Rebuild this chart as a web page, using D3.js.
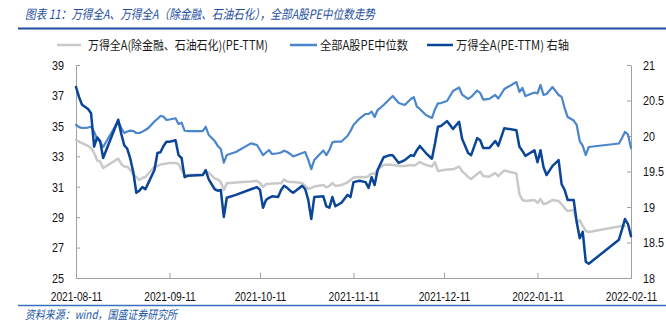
<!DOCTYPE html>
<html><head><meta charset="utf-8">
<script src="https://cdn.jsdelivr.net/npm/d3@7"></script>
<style>body{margin:0;background:#fff}svg{display:block}</style>
</head><body><svg id="c" width="666" height="328"></svg>
<script>
const titleText = "图表 11：万得全A、万得全A（除金融、石油石化），全部A股PE中位数走势";
const sourceText = "资料来源：wind，国盛证券研究所";
const seriesNames = ["万得全A(除金融、石油石化)(PE-TTM)", "全部A股PE中位数", "万得全A(PE-TTM) 右轴"];

const dates = [
"2021-08-11","2021-08-12","2021-08-13","2021-08-15","2021-08-16","2021-08-17","2021-08-18","2021-08-19","2021-08-20","2021-08-25","2021-08-26","2021-08-27","2021-08-28","2021-08-29","2021-08-30","2021-08-31",
"2021-09-01","2021-09-02","2021-09-03","2021-09-04","2021-09-06","2021-09-07","2021-09-08","2021-09-09","2021-09-10","2021-09-11","2021-09-13","2021-09-14","2021-09-15","2021-09-16","2021-09-17","2021-09-22","2021-09-23","2021-09-24","2021-09-26","2021-09-27","2021-09-28","2021-09-29","2021-09-30",
"2021-10-03","2021-10-08","2021-10-10","2021-10-11","2021-10-12","2021-10-13","2021-10-14","2021-10-15","2021-10-17","2021-10-18","2021-10-19","2021-10-20","2021-10-21","2021-10-22","2021-10-25","2021-10-26","2021-10-27","2021-10-28","2021-10-29",
"2021-11-01","2021-11-02","2021-11-03","2021-11-04","2021-11-05","2021-11-07","2021-11-09","2021-11-10","2021-11-11","2021-11-13","2021-11-15","2021-11-16","2021-11-17","2021-11-18","2021-11-19","2021-11-21","2021-11-23","2021-11-24","2021-11-26","2021-11-28","2021-11-30",
"2021-12-01","2021-12-02","2021-12-03","2021-12-05","2021-12-07","2021-12-08","2021-12-09","2021-12-10","2021-12-12","2021-12-14","2021-12-16","2021-12-17","2021-12-19","2021-12-20","2021-12-22","2021-12-23","2021-12-24","2021-12-26","2021-12-28","2021-12-29","2021-12-31",
"2022-01-04","2022-01-05","2022-01-06","2022-01-07","2022-01-10","2022-01-11","2022-01-12","2022-01-13","2022-01-14","2022-01-16","2022-01-18","2022-01-19","2022-01-20","2022-01-21","2022-01-23","2022-01-24","2022-01-25","2022-01-26","2022-01-27","2022-01-28",
"2022-02-07","2022-02-08","2022-02-09","2022-02-10","2022-02-11"];

// 万得全A(除金融、石油石化)(PE-TTM) - left axis
const wdaExFin = [
34.07,33.97,33.87,33.68,33.54,33.22,32.72,32.66,32.23,32.85,32.49,32.33,32.32,32.10,31.80,31.64,
31.44,31.57,31.64,31.87,32.30,32.36,32.46,32.49,32.53,32.56,32.56,32.49,32.10,31.77,31.77,31.80,31.97,31.93,31.55,31.47,31.31,30.78,31.22,
31.28,31.34,31.38,31.24,30.98,31.18,31.18,31.21,31.22,31.24,31.47,31.34,31.31,31.31,31.24,31.05,30.85,30.92,31.01,
31.11,30.96,31.05,31.24,31.05,31.11,31.28,31.44,31.61,31.64,31.62,31.70,31.87,31.84,32.13,32.43,32.46,32.43,32.36,32.36,32.43,
32.39,32.49,32.62,32.43,32.33,32.62,32.03,32.07,32.13,32.14,32.32,32.03,31.64,31.51,31.84,31.99,31.70,31.66,31.90,31.70,32.07,
31.87,30.52,30.13,30.06,30.13,29.93,30.19,29.86,29.90,30.13,30.06,29.86,29.60,29.40,29.47,28.61,28.81,28.42,28.09,28.02,
28.38,28.42,28.42,null,null];

// 全部A股PE中位数 - left axis
const medianPE = [
35.06,34.92,34.86,34.89,34.94,34.62,34.14,33.94,33.61,35.32,34.86,34.53,34.63,34.69,34.66,34.53,
34.53,34.62,34.73,34.86,35.29,35.45,35.65,35.61,35.39,35.42,35.50,35.12,35.21,34.68,34.66,34.66,34.94,34.40,34.00,33.68,33.48,32.58,33.08,
33.28,33.85,33.74,33.41,33.08,33.25,33.41,33.15,33.20,33.25,33.37,33.28,33.15,32.99,33.22,33.28,32.76,32.16,32.76,
33.38,33.08,33.41,33.91,33.96,33.97,34.33,34.66,35.06,35.48,35.78,35.78,35.94,35.58,36.04,36.37,36.77,36.96,36.50,36.37,36.77,
36.88,36.26,36.11,35.71,35.52,36.08,36.48,36.50,36.63,37.29,37.52,37.06,36.77,36.90,37.32,37.16,36.73,36.77,37.03,36.80,37.42,
37.88,37.23,37.49,36.96,37.19,37.13,37.69,37.03,37.09,37.55,37.03,36.90,36.17,35.58,35.35,35.06,34.00,33.68,33.08,33.61,
33.84,34.20,34.60,34.43,33.54];

// 万得全A(PE-TTM) - right axis
const wdaPE = [
20.69,20.55,20.44,20.38,20.32,19.85,19.98,19.93,19.69,20.23,20.03,19.87,19.82,19.68,19.49,19.20,
19.23,19.28,19.25,19.34,19.52,19.76,19.77,19.86,19.92,19.92,19.94,19.73,19.69,19.42,19.44,19.45,19.52,19.39,19.25,19.23,19.24,18.86,19.13,
19.17,19.25,19.28,19.24,18.99,19.10,19.13,19.15,19.14,19.24,19.30,19.27,19.23,19.20,19.30,19.25,19.10,18.83,19.14,
19.15,19.01,18.99,19.14,19.01,19.06,19.17,19.14,19.35,19.37,19.35,19.27,19.42,19.31,19.52,19.70,19.73,19.73,19.62,19.66,19.73,
19.72,19.80,19.86,19.76,19.68,19.89,20.13,20.14,20.21,20.10,20.20,19.96,19.76,19.73,19.97,19.94,19.83,19.83,19.93,19.86,20.11,
20.08,19.85,19.79,19.72,19.80,19.63,19.80,19.56,19.45,19.58,19.66,19.32,19.24,19.10,19.10,18.79,18.56,18.65,18.23,18.20,
18.54,18.68,18.83,18.76,18.59];

const leftTicks = [25,27,29,31,33,35,37,39];
const rightTicks = [18,18.5,19,19.5,20,20.5,21];
const xTickLabels = ["2021-08-11","2021-09-11","2021-10-11","2021-11-11","2021-12-11","2022-01-11","2022-02-11"];

const colors = ["#c9c9c9", "#4a86cb", "#0b4597"];

const parse = d3.timeParse("%Y-%m-%d");
const svg = d3.select("#c");
const X0 = 76, X1 = 631, Y0 = 278, Y1 = 65;

const x = d3.scaleTime().domain([parse(xTickLabels[0]), parse(xTickLabels[xTickLabels.length-1])]).range([X0, X1]);
const yL = d3.scaleLinear().domain([25, 39]).range([Y0, Y1]);
const yR = d3.scaleLinear().domain([18, 21]).range([Y0, Y1]);

const numFont = "'Liberation Sans', Arial, sans-serif";
const cjkFont = "'Noto Sans CJK SC', 'Noto Sans', sans-serif";

// Title
svg.append("text").attr("x", 25).attr("y", 19)
  .attr("font-family", cjkFont).attr("font-size", 13).attr("font-style", "italic")
  .attr("fill", "#1f4f9e").attr("textLength", 350).attr("lengthAdjust", "spacingAndGlyphs")
  .text(titleText);
svg.append("line").attr("x1", 18).attr("x2", 666).attr("y1", 28.5).attr("y2", 28.5)
  .attr("stroke", "#1f4f9e").attr("stroke-width", 2.2);

// Legend
const legend = [
  {lx1: 57, lx2: 81, tx: 88, w: 180},
  {lx1: 290, lx2: 317, tx: 320, w: 88},
  {lx1: 427, lx2: 453, tx: 456, w: 113}
];
legend.forEach((l, i) => {
  svg.append("line").attr("x1", l.lx1).attr("x2", l.lx2).attr("y1", 45).attr("y2", 45)
    .attr("stroke", colors[i]).attr("stroke-width", 2.5);
  svg.append("text").attr("x", l.tx).attr("y", 49.5)
    .attr("font-family", cjkFont).attr("font-size", 12.5).attr("fill", "#1a1a1a")
    .attr("textLength", l.w).attr("lengthAdjust", "spacingAndGlyphs")
    .text(seriesNames[i]);
});

// Axes
const axisColor = "#a0a0a0";
function styleAxis(g) {
  g.select(".domain").attr("stroke", axisColor);
  g.selectAll(".tick line").attr("stroke", axisColor);
  g.selectAll(".tick text").attr("fill", "#111");
  g.attr("font-family", numFont).attr("font-size", 13.5);
}
const gL = svg.append("g").attr("transform", `translate(${X0},0)`)
  .call(d3.axisLeft(yL).tickValues(leftTicks).tickSize(-4).tickSizeOuter(0).tickFormat(d3.format("d")));
styleAxis(gL);
gL.selectAll(".tick text").attr("x", 0).attr("transform", "translate(-12,0) scale(0.8,1)");

const gR = svg.append("g").attr("transform", `translate(${X1},0)`)
  .call(d3.axisRight(yR).tickValues(rightTicks).tickSize(-4).tickSizeOuter(0).tickFormat(d => String(d)));
styleAxis(gR);
gR.selectAll(".tick text").attr("x", 0).attr("transform", "translate(12,0) scale(0.8,1)");

const gB = svg.append("g").attr("transform", `translate(0,${Y0})`)
  .call(d3.axisBottom(x).tickValues(xTickLabels.map(parse)).tickSize(-5).tickSizeOuter(0).tickFormat(d3.timeFormat("%Y-%m-%d")));
styleAxis(gB);
gB.selectAll(".tick text").attr("y", 0).attr("transform", "translate(0,13) scale(0.76,1)");

// Lines
const parsed = dates.map(parse);
function drawSeries(values, yScale, color, width) {
  const line = d3.line()
    .defined(d => d[1] != null)
    .x(d => x(d[0])).y(d => yScale(d[1]));
  svg.append("path").datum(parsed.map((d, i) => [d, values[i]]))
    .attr("d", line).attr("fill", "none").attr("stroke", color)
    .attr("stroke-width", width).attr("stroke-linejoin", "round").attr("stroke-linecap", "round");
}
drawSeries(wdaExFin, yL, colors[0], 2.5);
drawSeries(medianPE, yL, colors[1], 2.2);
drawSeries(wdaPE, yR, colors[2], 2.5);

// Source
svg.append("line").attr("x1", 18).attr("x2", 666).attr("y1", 305.5).attr("y2", 305.5)
  .attr("stroke", "#3a6fc0").attr("stroke-width", 1.5);
svg.append("text").attr("x", 25).attr("y", 318.5)
  .attr("font-family", cjkFont).attr("font-size", 12).attr("font-style", "italic")
  .attr("fill", "#2457a8").attr("textLength", 152).attr("lengthAdjust", "spacingAndGlyphs")
  .text(sourceText);
</script></body></html>
